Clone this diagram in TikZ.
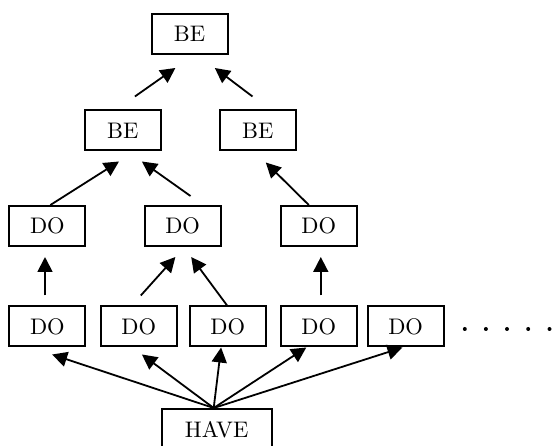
\documentclass[tikz,border=0pt]{standalone}
\usetikzlibrary{arrows.meta}
\begin{document}
\begin{tikzpicture}[x=1pt,y=-1pt,
  box/.style={draw,line width=2pt,minimum width=76pt,minimum height=40pt,inner sep=0pt,font=\fontsize{10}{12}\selectfont},
  arr/.style={line width=1.8pt,-{Triangle[length=15pt,width=15pt]}}]
\newcommand{\lbl}[1]{\scalebox{2.25}{#1}}
\useasboundingbox (0,0) rectangle (552,446);
\node[box] (beT) at (189.5,34) {\lbl{BE}};
\node[box] (beL) at (122.7,130.5) {\lbl{BE}};
\node[box] (beR) at (257.7,130.5) {\lbl{BE}};
\node[box] (d1) at (47.4,226) {\lbl{DO}};
\node[box] (d2) at (182.6,226) {\lbl{DO}};
\node[box] (d3) at (318.7,226) {\lbl{DO}};
\node[box] (a) at (47.4,326.5) {\lbl{DO}};
\node[box] (b) at (138.7,326.5) {\lbl{DO}};
\node[box] (c) at (227.8,326.5) {\lbl{DO}};
\node[box] (d) at (318.7,326.5) {\lbl{DO}};
\node[box] (e) at (405.6,326.5) {\lbl{DO}};
\node[box,minimum width=110pt,minimum height=41pt] (have) at (216.6,429.5) {\lbl{HAVE}};
% top level
\draw[arr] ([xshift=12.2pt,yshift=13pt]beL.north) -- ([xshift=-14.1pt,yshift=-13pt]beT.south);
\draw[arr] ([xshift=-5.2pt,yshift=13pt]beR.north) -- ([xshift=25.3pt,yshift=-13pt]beT.south);
% second level
\draw[arr] ([xshift=3pt]d1.north) -- ([xshift=-3.7pt,yshift=-10pt]beL.south);
\draw[arr] ([xshift=7.9pt,yshift=9pt]d2.north) -- ([xshift=19.2pt,yshift=-10pt]beL.south);
\draw[arr] ([xshift=-9.9pt]d3.north) -- ([xshift=8.1pt,yshift=-11pt]beR.south);
% third level
\draw[arr] ([xshift=-2.4pt,yshift=10pt]a.north) -- ([xshift=-2.4pt,yshift=-10pt]d1.south);
\draw[arr] ([xshift=2.1pt,yshift=10pt]b.north) -- ([xshift=-7.2pt,yshift=-10pt]d2.south);
\draw[arr] ([xshift=-0.7pt]c.north) -- ([xshift=8.6pt,yshift=-10pt]d2.south);
\draw[arr] ([xshift=2.1pt,yshift=10pt]d.north) -- ([xshift=2.1pt,yshift=-10pt]d3.south);
% from HAVE
\coordinate (h) at ([xshift=-2.9pt]have.north);
\draw[arr] (h) -- ([xshift=4.7pt,yshift=-7pt]a.south);
\draw[arr] (h) -- ([xshift=3.2pt,yshift=-7pt]b.south);
\draw[arr] (h) -- ([xshift=-6.7pt]c.south);
\draw[arr] (h) -- ([xshift=-12.4pt]d.south);
\draw[arr] (h) -- ([xshift=-3.1pt]e.south);
% dots
\foreach \x in {464.8,485.9,507,528.2,549.5}
  \fill (\x,329) circle (2pt);
\end{tikzpicture}
\end{document}
